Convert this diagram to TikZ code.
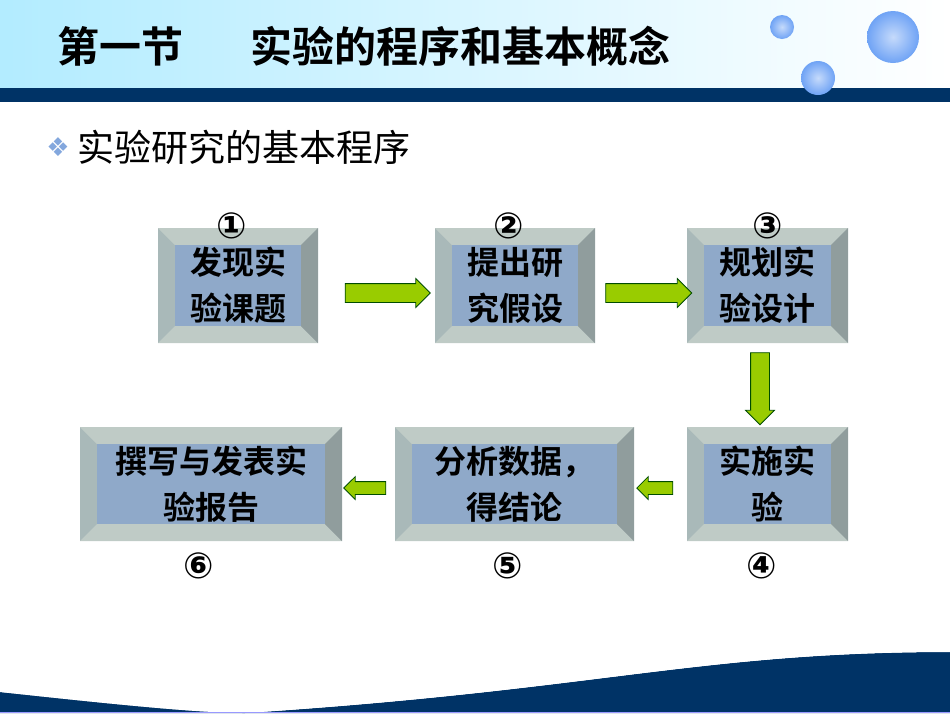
\documentclass[tikz,border=0pt]{standalone}
\usepackage{fontspec}
\newfontfamily\cjk{Noto Sans CJK SC}
\newfontfamily\cjkb{Noto Sans CJK SC Bold}
\newfontfamily\dv{DejaVu Sans}
\usetikzlibrary{shapes.arrows}
\definecolor{navy}{HTML}{003366}
\definecolor{face}{HTML}{8FA9C9}
\definecolor{side}{HTML}{A9B9B9}
\definecolor{tb}{HTML}{BFCBC6}
\definecolor{grn}{HTML}{99CC00}
\definecolor{ball}{HTML}{6FA3F5}
\tikzset{
 lbl/.style={font=\cjkb\fontsize{32}{46}\selectfont,align=center,text=black},
 num/.style={font=\dv\bfseries\fontsize{36}{36}\selectfont},
 garrow/.style={single arrow,draw=black!70!green,fill=grn,line width=0.8pt,minimum height=#1,single arrow head extend=5pt,inner sep=9pt},
 bl/.style={inner color=ball!40!white,outer color=ball},
}
\newcommand{\cube}[5]{% x1 y1 x2 y2 name
 \fill[side] (#1,#2) rectangle (#3,#4);
 \fill[tb] (#1,#2) -- (#3,#2) -- (#3-17,#2+17) -- (#1+17,#2+17) -- cycle;
 \fill[tb] (#1,#4) -- (#3,#4) -- (#3-17,#4-17) -- (#1+17,#4-17) -- cycle;
 \fill[side!85!black] (#3,#2) -- (#3,#4) -- (#3-17,#4-17) -- (#3-17,#2+17) -- cycle;
 \fill[face] (#1+17,#2+17) rectangle (#3-17,#4-17);
 \coordinate (#5) at ({(#1+#3)/2},{(#2+#4)/2});
}
\begin{document}
\begin{tikzpicture}[x=1pt,y=-1pt]
\useasboundingbox (0,0) rectangle (950,713);
\shade[left color=blue!25!cyan!30,right color=white] (0,0) rectangle (950,88);
\fill[navy] (0,88) rectangle (950,102);
\shade[bl] (782,27) circle (12);
\shade[bl] (893,37) circle (26);
\shade[bl] (818,78) circle (17);
\node[font=\cjkb\fontsize{42}{42}\selectfont,anchor=west,inner sep=0pt] (title) at (57,46) {第一节\hspace{1.6em}实验的程序和基本概念};
\node[font=\dv\fontsize{26}{26}\selectfont,text=cyan!50!blue!50,anchor=center] (bul) at (58,147) {❖};
\node[font=\cjk\fontsize{37}{37}\selectfont,anchor=west,inner sep=0pt] (sub) at (77,147) {实验研究的基本程序};
\fill[navy] (0,692) .. controls (120,705) and (200,713) .. (245,713) -- (950,713) -- (950,652) .. controls (700,652) and (600,690) .. (245,713) -- cycle;
\fill[navy] (0,692) -- (0,713) -- (245,713) .. controls (200,713) and (120,705) .. (0,692);
\fill[white] (0,640) -- (0,692) .. controls (120,705) and (200,713) .. (245,713) .. controls (600,690) and (700,652) .. (950,652) -- (950,640) -- cycle;
\draw[blue!40,line width=1pt] (0,712) -- (950,712);
\cube{158}{228}{318}{343}{b1}
\cube{435}{228}{595}{343}{b2}
\cube{687}{228}{848}{343}{b3}
\cube{687}{427}{848}{541}{b4}
\cube{395}{427}{634}{541}{b5}
\cube{80}{427}{342}{541}{b6}
\node[lbl] (t1) at (b1) {发现实\\验课题};
\node[lbl] (t2) at (b2) {提出研\\究假设};
\node[lbl] (t3) at (b3) {规划实\\验设计};
\node[lbl] (t4) at (b4) {实施实\\验};
\node[lbl] (t5) at (b5) {分析数据，\\得结论};
\node[lbl] (t6) at (b6) {撰写与发表实\\验报告};
\node[num] (n1) at (232,226) {①};
\node[num] (n2) at (509,226) {②};
\node[num] (n3) at (768,226) {③};
\node[num] (n4) at (762,566) {④};
\node[num] (n5) at (508,566) {⑤};
\node[num] (n6) at (199,566) {⑥};
\node[garrow=85pt] (a1) at (383,293) {};
\node[garrow=86pt] (a2) at (644,293) {};
\node[garrow=72pt,rotate=-90] (a3) at (760,384) {};
\node[garrow=36pt,rotate=180,inner sep=6pt] (a4) at (658,488) {};
\node[garrow=42pt,rotate=180,inner sep=6pt] (a5) at (368,488) {};
\end{tikzpicture}
\end{document}
